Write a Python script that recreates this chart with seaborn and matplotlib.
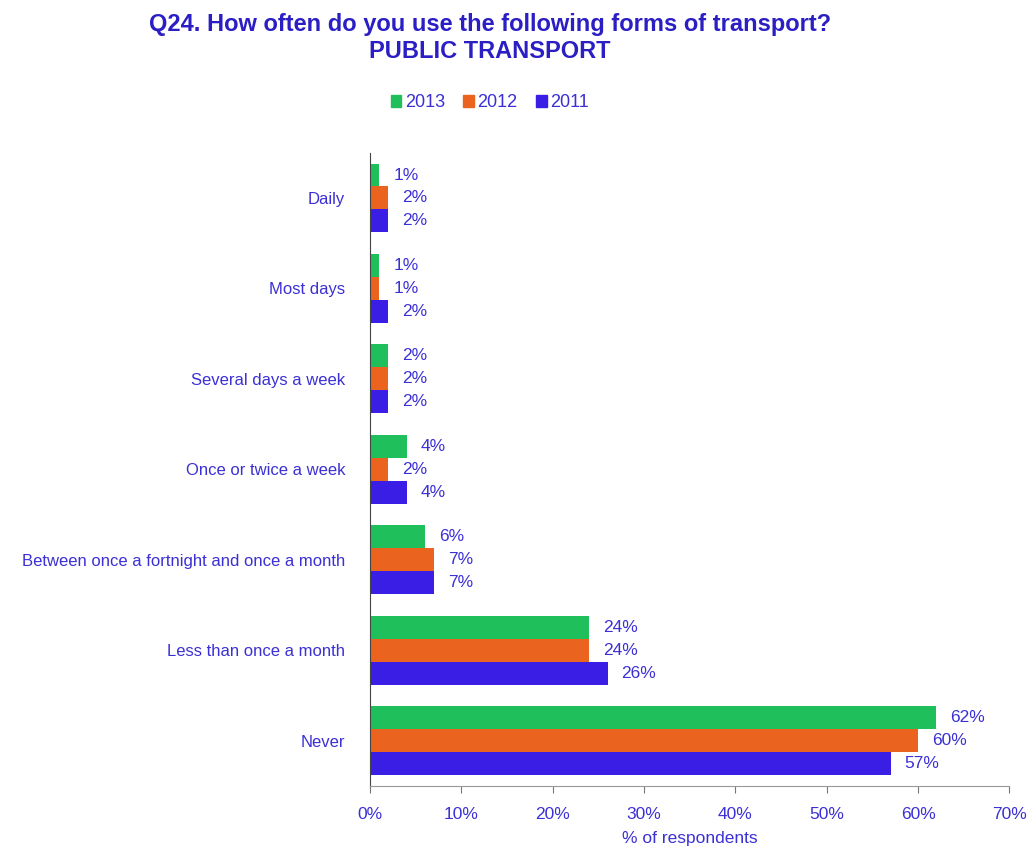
import pandas as pd
import matplotlib.pyplot as plt
import seaborn as sns

# Данные
categories = ['Daily', 'Most days', 'Several days a week', 'Once or twice a week',
              'Between once a fortnight and once a month', 'Less than once a month', 'Never']
years = ['2013', '2012', '2011']
v2013 = [1, 1, 2, 4, 6, 24, 62]
v2012 = [2, 1, 2, 2, 7, 24, 60]
v2011 = [2, 2, 2, 4, 7, 26, 57]

df = pd.DataFrame({
    'category': categories * 3,
    'year': [y for y in years for _ in categories],
    'value': v2013 + v2012 + v2011,
})

sns.set_style('white')
plt.rcParams['font.family'] = ['Liberation Sans', 'DejaVu Sans']

text_col = '#3b2fd6'
palette = {'2013': '#1fbf5c', '2012': '#ea6420', '2011': '#3b1ee6'}

fig = plt.figure(figsize=(10.31, 8.58), dpi=100)
ax = fig.add_axes([0.359, 0.084, 0.62, 0.738])

sns.barplot(data=df, y='category', x='value', hue='year', hue_order=years,
            order=categories, palette=palette, orient='h', width=0.76,
            saturation=1, linewidth=0, ax=ax, legend=False)

for cont in ax.containers:
    ax.bar_label(cont, fmt='%g%%', padding=10, color=text_col, fontsize=12.5)

ax.set_xlim(0, 70)
ax.set_xticks(range(0, 71, 10))
ax.set_xticklabels([f'{t}%' for t in range(0, 71, 10)])
ax.tick_params(axis='x', colors='#777777', labelcolor=text_col, labelsize=12.5,
               length=5, direction='out', bottom=True, pad=10)
ax.tick_params(axis='y', labelcolor=text_col, labelsize=12, length=0, pad=18)
ax.set_ylabel('')
ax.set_xlabel('% of respondents', color=text_col, fontsize=12.5, labelpad=7)
for s in ['top', 'right']:
    ax.spines[s].set_visible(False)
ax.spines['left'].set_color('#444444')
ax.spines['bottom'].set_color('#999999')

fig.text(0.475, 0.972, 'Q24. How often do you use the following forms of transport?',
         ha='center', va='center', color='#2a1ec4', fontsize=17, fontweight='bold')
fig.text(0.475, 0.94, 'PUBLIC TRANSPORT',
         ha='center', va='center', color='#2a1ec4', fontsize=17, fontweight='bold')

handles = [plt.Rectangle((0, 0), 1, 1, color=palette[y]) for y in years]
fig.legend(handles, years, loc='center', bbox_to_anchor=(0.475, 0.88), ncol=3,
           frameon=False, fontsize=13, labelcolor=text_col, handlelength=0.6,
           handleheight=0.6, handletextpad=0.2, columnspacing=1.0)

plt.savefig('out.png', dpi=100)
